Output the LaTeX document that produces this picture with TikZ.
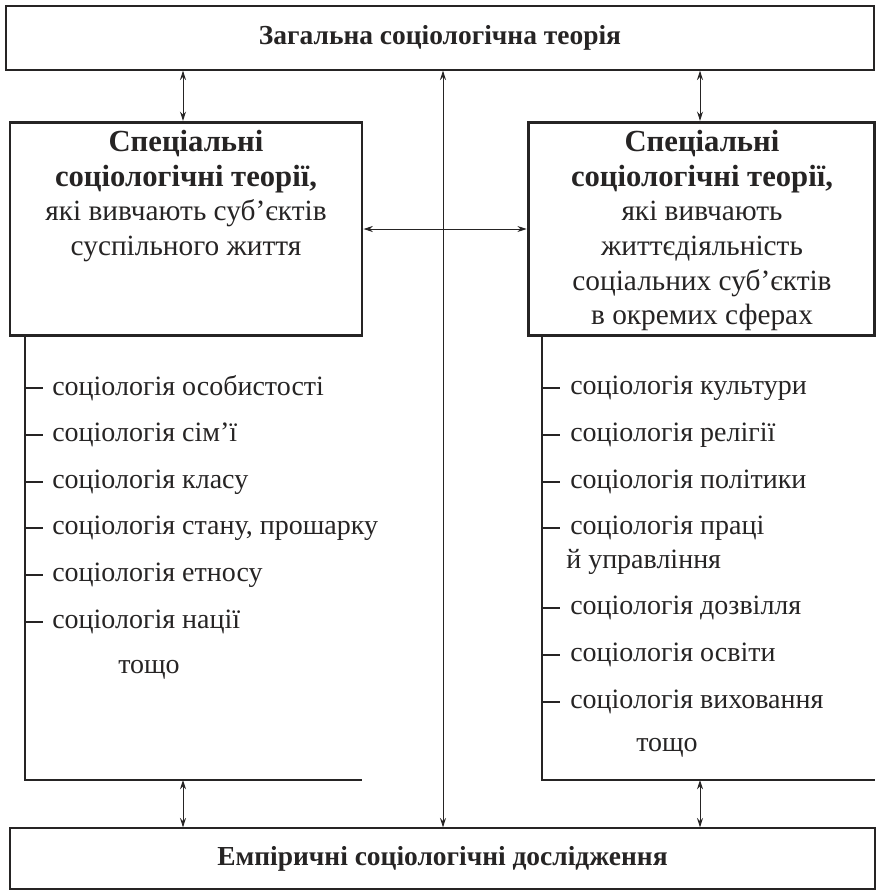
\documentclass[tikz,border=0pt]{standalone}
\usepackage{fontspec}
\usetikzlibrary{arrows.meta}
\setmainfont{Liberation Serif}
\definecolor{ink}{HTML}{262424}
\newcommand\bhd{\fontsize{23}{26}\selectfont\bfseries}
\begin{document}
\begin{tikzpicture}[x=0.75pt,y=-0.75pt,
  thinbox/.style={draw=ink, line width=1pt, inner sep=0pt},
  thickbox/.style={draw=ink, line width=2.2pt, inner sep=0pt},
  head/.style={font=\fontsize{20.6}{25}\selectfont\bfseries, text=ink},
  body/.style={font=\fontsize{22}{26}\selectfont, text=ink, align=center, inner sep=0pt},
  item/.style={font=\fontsize{21}{24}\selectfont, text=ink, anchor=west, inner sep=0pt},
  arr/.style={draw=ink, line width=0.7pt, {Stealth[length=7pt,width=4.5pt]}-{Stealth[length=7pt,width=4.5pt]}},
  ln/.style={draw=ink, line width=1pt}
]
\useasboundingbox (0,0) rectangle (880,892);
\node[thinbox, minimum width=651pt, minimum height=48pt, head] (top) at (440,38) {Загальна соціологічна теорія};
\node[thinbox, minimum width=648.75pt, minimum height=45.75pt, head] (bot) at (442.5,858.5) {Емпіричні соціологічні дослідження};
\node[thickbox, minimum width=264pt, minimum height=160pt] (lb) at (186,229) {};
\node[thickbox, minimum width=260pt, minimum height=160pt] (rb) at (701.5,229) {};
\node[body, anchor=north] (lt) at (186,130) {{\bhd Спеціальні}\\{\bhd соціологічні теорії,}\\які вивчають суб’єктів\\суспільного життя};
\node[body, anchor=north] (rt) at (702,130) {{\bhd Спеціальні}\\{\bhd соціологічні теорії,}\\які вивчають\\життєдіяльність\\соціальних суб’єктів\\в окремих сферах};
% connectors
\coordinate (xl) at (183,0);
\coordinate (xc) at (443,0);
\coordinate (xr) at (700,0);
\draw[arr] (top.south -| xl) -- (lb.north -| xl);
\draw[arr] (top.south -| xr) -- (rb.north -| xr);
\draw[arr] (top.south -| xc) -- (bot.north -| xc);
\draw[arr] (lb.east) -- (rb.west);
% brackets
\coordinate (lbe) at (362,780);
\coordinate (rbe) at (875,780);
\coordinate (lx) at (25,0);
\coordinate (rx) at (542,0);
\draw[ln] (lb.south -| lx) |- (lbe);
\draw[ln] (rb.south -| rx) |- (rbe);
\draw[arr] (lbe -| xl) -- (bot.north -| xl);
\draw[arr] (rbe -| xr) -- (bot.north -| xr);
% left list
\foreach \y/\t [count=\i] in {388/соціологія особистості,435/соціологія сім’ї,482/соціологія класу,528/{соціологія стану, прошарку},575/соціологія етносу,622/соціологія нації}{
  \node[item] (l\i) at (52,\y) {\t};
  \draw[ln] (lx |- l\i.west) -- ++(18,0);
}
\node[item, anchor=center] (lt7) at (149,670) {тощо};
% right list
\foreach \y/\t [count=\i] in {388/соціологія культури,435/соціологія релігії,482/соціологія політики,528/соціологія праці,608/соціологія дозвілля,655/соціологія освіти,702/соціологія виховання}{
  \node[item] (r\i) at (570,\y) {\t};
  \draw[ln] (rx |- r\i.west) -- ++(18,0);
}
\node[item] (r4b) at (566,562) {й управління};
\node[item, anchor=center] (rt8) at (667,748) {тощо};
\end{tikzpicture}
\end{document}
